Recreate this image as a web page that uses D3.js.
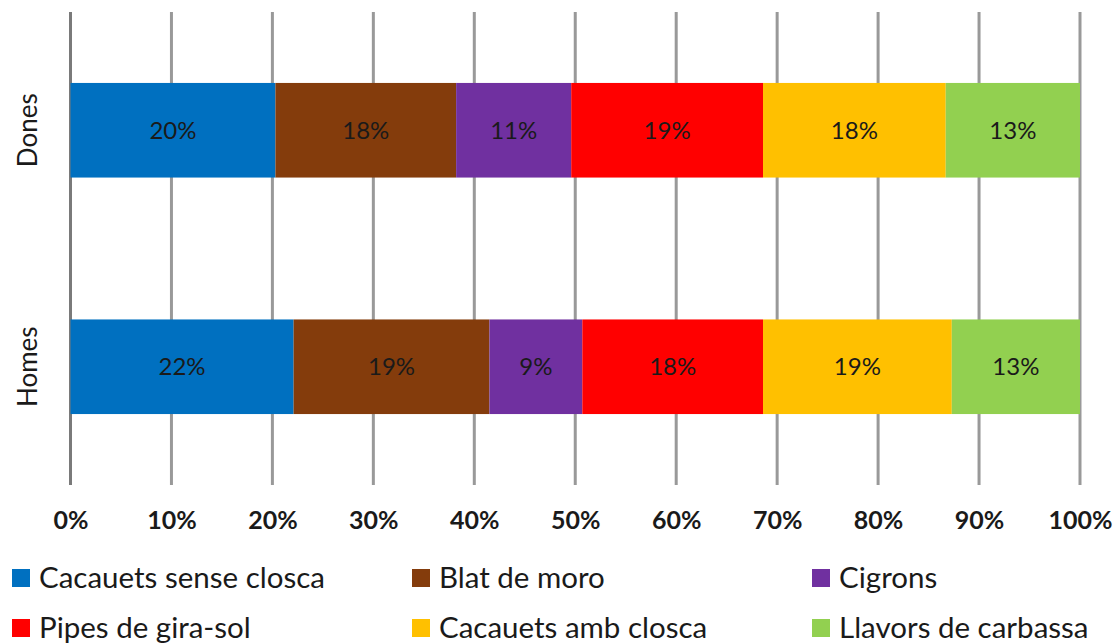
<!DOCTYPE html>
<html><head><meta charset="utf-8">
<script src="https://cdn.jsdelivr.net/npm/d3@7"></script>
<style>body{margin:0;background:#fff;} svg{display:block;}</style>
</head><body>
<svg id="c" width="1117" height="643"></svg>
<script>
const categories = ["Dones", "Homes"];
const seriesNames = ["Cacauets sense closca", "Blat de moro", "Cigrons", "Pipes de gira-sol", "Cacauets amb closca", "Llavors de carbassa"];
const colors = ["#0070C0", "#843C0C", "#7030A0", "#FF0000", "#FFC000", "#92D050"];
const donesValues = [20.3, 17.9, 11.4, 19.0, 18.1, 13.3];
const homesValues = [22.1, 19.4, 9.2, 17.9, 18.7, 12.7];
const tickValues = [0, 10, 20, 30, 40, 50, 60, 70, 80, 90, 100];

const FONT = "Lato, 'Liberation Sans', sans-serif";
const svg = d3.select("#c");
const rows = [donesValues, homesValues];

const x = d3.scaleLinear().domain([0, 100]).range([70.5, 1080]);
const y = d3.scaleBand().domain(categories).range([12, 485]).paddingInner(0.6).paddingOuter(0.3);

// gridlines
svg.append("g").selectAll("line").data(tickValues).join("line")
  .attr("x1", d => x(d)).attr("x2", d => x(d))
  .attr("y1", 12).attr("y2", 485)
  .attr("stroke", d => d === 0 ? "#7a7a7a" : "#999").attr("stroke-width", 3);

// bars
categories.forEach((cat, i) => {
  const vals = rows[i];
  const total = d3.sum(vals);
  let acc = 0;
  const segs = vals.map((v, j) => { const s = {start: acc / total * 100, end: (acc + v) / total * 100, v, j}; acc += v; return s; });
  const g = svg.append("g");
  g.selectAll("rect").data(segs).join("rect")
    .attr("x", d => x(d.start)).attr("width", d => x(d.end) - x(d.start))
    .attr("y", y(cat)).attr("height", y.bandwidth())
    .attr("fill", d => colors[d.j]);
  g.selectAll("text").data(segs).join("text")
    .attr("x", d => (x(d.start) + x(d.end)) / 2)
    .attr("y", y(cat) + y.bandwidth() / 2)
    .attr("dy", "0.35em").attr("text-anchor", "middle")
    .attr("font-family", FONT).attr("font-size", 24).attr("fill", "#1a1a1a")
    .text(d => Math.round(d.v) + "%");
  svg.append("text")
    .attr("transform", `translate(37,${y(cat) + y.bandwidth() / 2}) rotate(-90)`)
    .attr("text-anchor", "middle")
    .attr("font-family", FONT).attr("font-size", 26).attr("fill", "#1a1a1a")
    .text(cat);
});

// x axis labels
const xAxis = d3.axisBottom(x).tickValues(tickValues).tickSize(0).tickPadding(0).tickFormat(d => d + "%");
const ax = svg.append("g").attr("transform", "translate(0,511)").call(xAxis);
ax.select(".domain").remove();
ax.selectAll("text").attr("font-family", FONT).attr("font-size", 25).attr("font-weight", "bold").attr("fill", "#1a1a1a");

// legend
const legX = [12, 412, 812];
const legY = [578, 628];
const lg = svg.append("g").selectAll("g").data(seriesNames).join("g")
  .attr("transform", (d, i) => `translate(${legX[i % 3]},${legY[Math.floor(i / 3)]})`);
lg.append("rect").attr("x", 0).attr("y", -9).attr("width", 18).attr("height", 18).attr("fill", (d, i) => colors[i]);
lg.append("text").attr("x", 27).attr("dy", "0.35em")
  .attr("font-family", FONT).attr("font-size", 29.5).attr("fill", "#1a1a1a").text(d => d);
</script>
</body></html>
